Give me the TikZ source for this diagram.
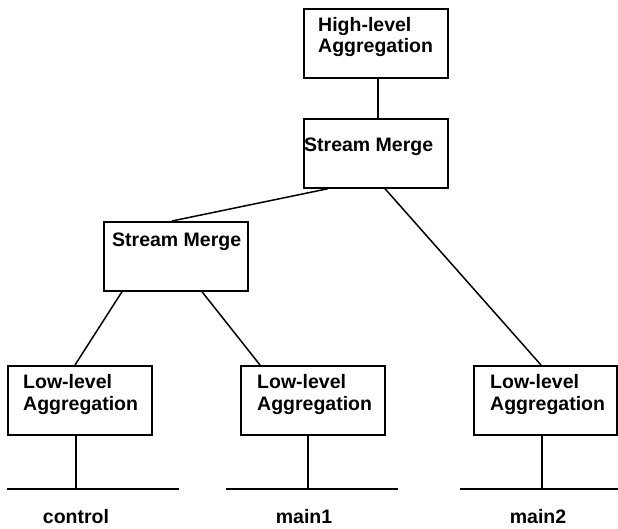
\documentclass[tikz,border=0pt]{standalone}
\usepackage{fontspec}
\setmainfont{Liberation Sans}
\begin{document}
\begin{tikzpicture}[x=1pt,y=-1pt,
  boxst/.style={draw,line width=1.7pt,minimum width=144pt,minimum height=69pt,inner sep=0pt,anchor=north west},
  txt/.style={inner sep=0pt,anchor=base west,align=left,font=\bfseries\fontsize{19.5}{21.5}\selectfont},
  lbl/.style={inner sep=0pt,anchor=base,font=\bfseries\fontsize{19.5}{21.5}\selectfont},
  conn/.style={line width=1.5pt},
  bus/.style={line width=1.6pt}]
\useasboundingbox (0,0) rectangle (618,529);
% boxes
\node[boxst] (hla) at (303,8) {};
\node[boxst] (tsm) at (303,118) {};
\node[boxst] (lsm) at (103,221) {};
\node[boxst] (lla1) at (7,365) {};
\node[boxst] (lla2) at (240,365) {};
\node[boxst,minimum width=143pt] (lla3) at (473,365) {};
% texts
\node[txt] (thla) at (318,53) {High-level\\Aggregation};
\node[txt] (ttsm) at (304,152) {Stream Merge};
\node[txt] (tlsm) at (112,247) {Stream Merge};
\node[txt] (tl1) at (23,410) {Low-level\\Aggregation};
\node[txt] (tl2) at (257,410) {Low-level\\Aggregation};
\node[txt] (tl3) at (490,410) {Low-level\\Aggregation};
% connectors
\draw[conn] ([xshift=75pt]hla.south west) -- ([xshift=75pt]tsm.north west);
\draw[conn] ([xshift=25pt]tsm.south west) -- ([xshift=69pt]lsm.north west);
\draw[conn] ([xshift=82pt]tsm.south west) -- ([xshift=68pt]lla3.north west);
\draw[conn] ([xshift=19pt]lsm.south west) -- ([xshift=68pt]lla1.north west);
\draw[conn] ([xshift=99pt]lsm.south west) -- ([xshift=20pt]lla2.north west);
% buses
\coordinate (b1l) at (7,489); \coordinate (b1r) at (179,489);
\coordinate (b2l) at (226,489); \coordinate (b2r) at (398,489);
\coordinate (b3l) at (460,489); \coordinate (b3r) at (618,489);
\draw[bus] (b1l) -- (b1r);
\draw[bus] (b2l) -- (b2r);
\draw[bus] (b3l) -- (b3r);
\draw[conn] ([xshift=69pt]lla1.south west) -- ([xshift=69pt]lla1.south west |- b1l);
\draw[conn] ([xshift=68pt]lla2.south west) -- ([xshift=68pt]lla2.south west |- b2l);
\draw[conn] ([xshift=69pt]lla3.south west) -- ([xshift=69pt]lla3.south west |- b3l);
% labels
\node[lbl] (lc) at (76,523) {control};
\node[lbl] (lm1) at (304,523) {main1};
\node[lbl] (lm2) at (538,523) {main2};
\end{tikzpicture}
\end{document}
